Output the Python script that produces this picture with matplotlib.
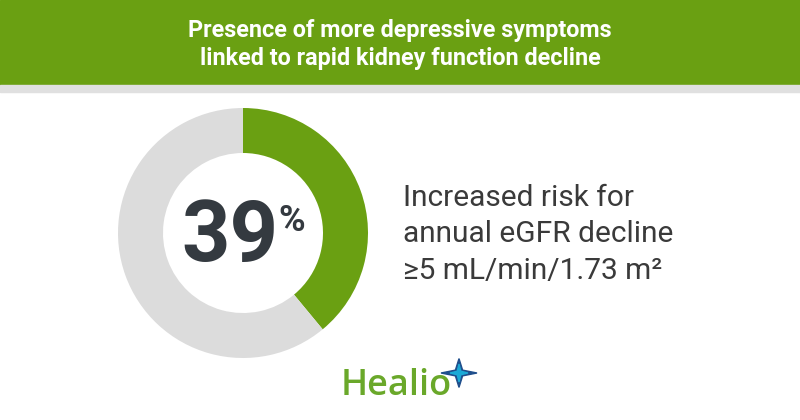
import matplotlib.pyplot as plt
from matplotlib.patches import Rectangle, Polygon

# data
share = [39, 61]
share_colors = ['#6aa012', '#dcdcdc']
big_label = '39'
title_lines = ['Presence of more depressive symptoms',
               'linked to rapid kidney function decline']
desc_lines = ['Increased risk for', 'annual eGFR decline', '≥5 mL/min/1.73 m²']

W, H = 800, 420
fig = plt.figure(figsize=(8, 4.2), dpi=100)
fig.patch.set_facecolor('white')

def fx(px):
    return px / W

def fy(py):
    return 1 - py / H

# header band + grey strip
fig.patches.append(Rectangle((0, fy(85)), 1, 85 / H, transform=fig.transFigure,
                             color='#6aa012', zorder=0))
fig.patches.append(Rectangle((0, fy(92)), 1, 7 / H, transform=fig.transFigure,
                             color='#e0e0e0', zorder=0))

for i, line in enumerate(title_lines):
    fig.text(0.5, fy(31 + i * 27), line, ha='center', va='center', color='white',
             fontsize=16.8, fontweight='bold', fontstretch='condensed', family='Roboto')

# donut
ax = fig.add_axes([fx(118), fy(358), 250 / W, 250 / H])
ax.pie(share, colors=share_colors, startangle=90, counterclock=False,
       wedgeprops=dict(width=0.36, edgecolor='none'))
ax.set_xlim(-1, 1)
ax.set_ylim(-1, 1)
ax.set_aspect('equal')
ax.axis('off')

fig.text(fx(278), fy(238), big_label, ha='right', va='center', color='#343a40',
         fontsize=61, fontweight='bold', family='Roboto')
fig.text(fx(278), fy(221), '%', ha='left', va='center', color='#343a40',
         fontsize=26, fontweight='bold', family='Roboto')

# description
for i, line in enumerate(desc_lines):
    fig.text(fx(403), fy(198 + i * 36.5), line, ha='left', va='center', color='#3a3a3a',
             fontsize=21.5, family='Roboto')

# logo
fig.text(fx(341), fy(386), 'Healio', ha='left', va='center', color='#6aa82a',
         fontsize=26, fontweight='semibold', family='Open Sans')
star_x = [0, 0.12, 0.6, 0.12, 0, -0.12, -0.6, -0.12]
star_y = [0.6, 0.12, 0, -0.12, -0.6, -0.12, 0, 0.12]
cx, cy, s = 459, 373, 30
fig.patches.append(Polygon([(fx(cx + s * a), fy(cy - 0.8 * s * b)) for a, b in zip(star_x, star_y)],
                           transform=fig.transFigure, color='#1f4e8c', zorder=3))
fig.patches.append(Polygon([(fx(cx + 0.5 * s * a), fy(cy - 0.5 * s * b)) for a, b in zip(star_x, star_y)],
                           transform=fig.transFigure, color='#1ba9d6', zorder=4))

fig.savefig('out.png', dpi=100, facecolor='white')
